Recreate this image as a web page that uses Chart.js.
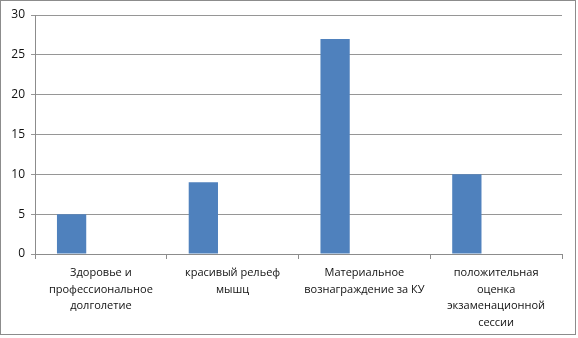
<!DOCTYPE html>
<html>
<head>
<meta charset="utf-8">
<script src="https://cdn.jsdelivr.net/npm/chart.js@4/dist/chart.umd.min.js"></script>
<style>
  html, body { margin: 0; padding: 0; background: #fff; }
  #frame { position: absolute; left: 0; top: 0; width: 574px; height: 333px; border: 1px solid #8c8c8c; }
  canvas { display: block; }
</style>
</head>
<body>
<div id="frame"><canvas id="chart" width="574" height="333"></canvas></div>
<script>
const categories = [
    ['Здоровье и', 'профессиональное', 'долголетие'],
    ['красивый рельеф', 'мышц'],
    ['Материальное', 'вознаграждение за КУ'],
    ['положительная', 'оценка', 'экзаменационной', 'сессии']
];
const series1 = [5, 9, 27, 10];
const series2 = [null, null, null, null];
const series3 = [null, null, null, null];
const yTicks = [0, 5, 10, 15, 20, 25, 30];

const fontFamily = "'Open Sans', 'Noto Sans', sans-serif";

document.addEventListener('DOMContentLoaded', function() {
    const ctx = document.getElementById('chart').getContext('2d');
    new Chart(ctx, {
        type: 'bar',
        data: {
            labels: categories,
            datasets: [
                { label: 'Ряд 1', data: series1, backgroundColor: '#4f81bd' },
                { label: 'Ряд 2', data: series2, backgroundColor: '#c0504d' },
                { label: 'Ряд 3', data: series3, backgroundColor: '#9bbb59' }
            ]
        },
        options: {
            responsive: false,
            animation: false,
            categoryPercentage: 2 / 3,
            barPercentage: 1,
            layout: { padding: { left: 0, right: 13, top: 14, bottom: 0 } },
            plugins: {
                legend: { display: false },
                tooltip: { enabled: false }
            },
            scales: {
                x: {
                    grid: {
                        offset: true,
                        drawOnChartArea: false,
                        color: '#8c8c8c',
                        tickLength: 5
                    },
                    border: { color: '#8c8c8c' },
                    ticks: {
                        color: '#111',
                        padding: 6,
                        maxRotation: 0,
                        autoSkip: false,
                        font: { family: fontFamily, size: 11, lineHeight: 1.5 }
                    },
                    afterFit: function(scale) { scale.height = 80; }
                },
                y: {
                    min: 0,
                    max: 30,
                    afterBuildTicks: function(scale) {
                        scale.ticks = yTicks.map(v => ({ value: v }));
                    },
                    grid: {
                        color: '#969696',
                        tickLength: 4
                    },
                    border: { color: '#8c8c8c' },
                    ticks: {
                        color: '#111',
                        padding: 6,
                        font: { family: fontFamily, size: 12 }
                    },
                    afterFit: function(scale) { scale.width = 34; }
                }
            }
        }
    });
});
</script>
</body>
</html>
